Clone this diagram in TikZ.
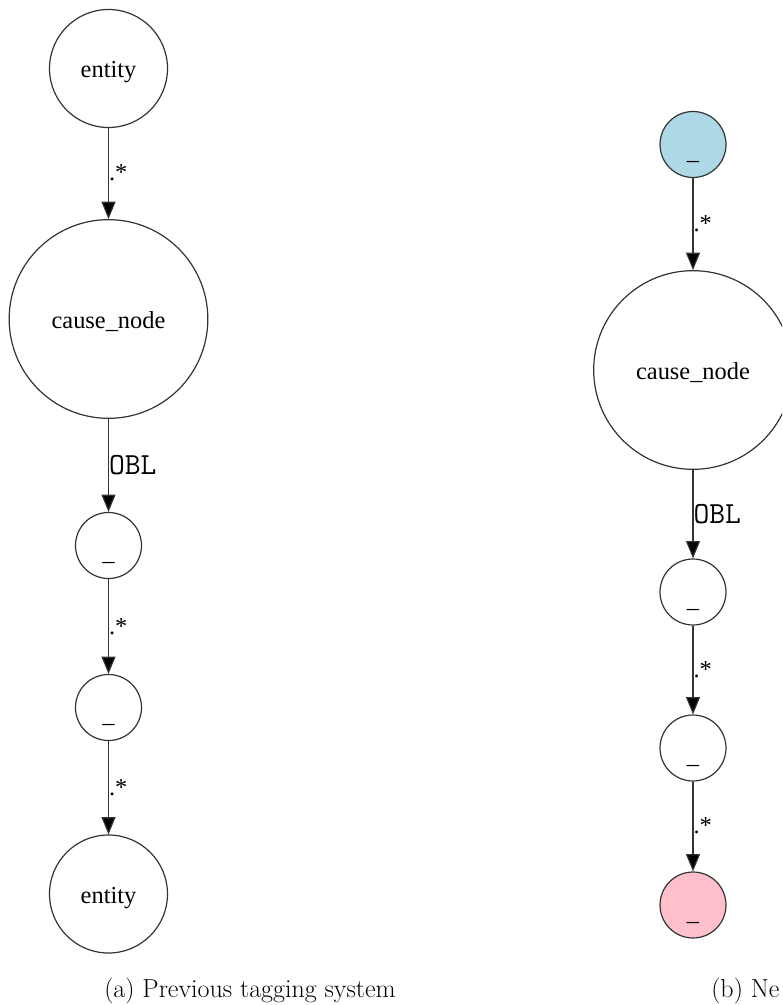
\documentclass[tikz,border=0pt]{standalone}
\usepackage{fontspec}
\usetikzlibrary{arrows.meta}
\newfontfamily\labelfont{Liberation Serif}
\definecolor{startfill}{HTML}{ADD8E6}
\definecolor{endfill}{HTML}{FFC0CB}
\definecolor{inkgray}{HTML}{333333}
\newcommand{\blank}{\raisebox{-4.5pt}{\_}}
\tikzset{
  vertex/.style={circle, draw=inkgray, line width=0.9pt, inner sep=0pt,
    font=\labelfont\fontsize{18.3}{20}\selectfont,
    text height=15pt, text depth=1.5pt},
  bignode/.style={vertex, minimum size=88.5pt},
  hugenode/.style={vertex, minimum size=149pt},
  smallnode/.style={vertex, minimum size=49.5pt},
  edge/.style={draw=inkgray, line width=0.9pt,
    -{Triangle[length=13pt, width=10.5pt, fill=black]}},
  rel/.style={pos=0.58, anchor=base west, inner sep=0pt,
    font=\labelfont\fontsize{18.3}{20}\selectfont},
  obl/.style={pos=0.6, anchor=base west, inner sep=0pt,
    font=\ttfamily\fontsize{23}{25}\selectfont},
  caption/.style={anchor=base west, inner sep=0pt,
    font=\fontsize{19.5}{23}\selectfont}
}
\begin{document}
\begin{tikzpicture}[x=0.75pt, y=-0.75pt]
\clip (0,0) rectangle (782,1005);

% (a) left chain
\node[bignode]   (ea) at (108.5, 68.5) {entity};
\node[hugenode]  (ca) at (108.5, 319)  {cause\_node};
\node[smallnode] (ua) at (108.5, 545.5) {\blank};
\node[smallnode] (va) at (108.5, 707.5) {\blank};
\node[bignode]   (fa) at (108.5, 894)  {entity};

\draw[edge] (ea) -- (ca) node[rel] {.*};
\draw[edge] (ca) -- (ua) node[obl] {OBL};
\draw[edge] (ua) -- (va) node[rel] {.*};
\draw[edge] (va) -- (fa) node[rel] {.*};

\node[caption] (capa) at (104, 997) {(a) Previous tagging system};

% (b) right chain
\node[smallnode, fill=startfill] (sb) at (693, 144.5) {\blank};
\node[hugenode]  (cb) at (693, 370) {cause\_node};
\node[smallnode] (ub) at (693, 592) {\blank};
\node[smallnode] (vb) at (693, 748) {\blank};
\node[smallnode, fill=endfill] (tb) at (693, 905) {\blank};

\draw[edge] (sb) -- (cb) node[rel] {.*};
\draw[edge] (cb) -- (ub) node[obl] {OBL};
\draw[edge] (ub) -- (vb) node[rel] {.*};
\draw[edge] (vb) -- (tb) node[rel] {.*};

\node[caption] (capb) at (711, 997) {(b) Ne};
\end{tikzpicture}
\end{document}
